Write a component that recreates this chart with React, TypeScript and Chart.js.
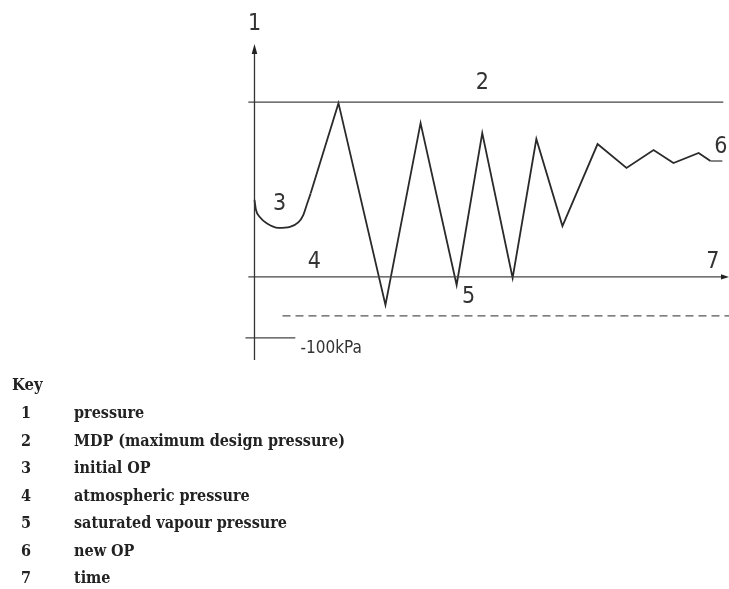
import React, { useEffect, useRef } from "react";
import { Chart, registerables } from "chart.js";

Chart.register(...registerables);

// time (x) and pressure (y) in diagram units: atmospheric = 0, MDP = 10
const arcTime = [0, 0.32, 1.16, 2.57, 5.02, 7.48, 9.23, 10.28, 11.0, 11.84];
const arcPressure = [4.4, 3.83, 3.41, 3.07, 2.81, 2.87, 3.12, 3.54, 4.11, 4.78];

const zigTime = [11.84, 17.7, 27.6, 35.0, 42.6, 48.0, 54.4, 59.4, 64.9, 72.3, 78.4, 84.1, 88.3, 93.6, 96.1];
const zigPressure = [4.78, 9.94, -1.6, 8.8, -0.46, 8.23, -0.06, 7.89, 2.91, 7.6, 6.23, 7.26, 6.51, 7.09, 6.63];

const mdpLevel = 10;
const atmLevel = 0;
const vapourLevel = -2.23;
const kpa100Level = -3.49;
const newOpLevel = 6.63;

const xMin = -2;
const xMax = 100;
const yMin = -4.75;
const yMax = 13.15;

const diagramLabels = ["1", "2", "3", "4", "5", "6", "7"];
const labelTime = [0, 48.0, 5.3, 12.6, 45.1, 98.3, 96.6];
const labelPressure = [14.45, 11.1, 4.17, 0.85, -1.15, 7.45, 0.85];
const kpaLabel = "-100kPa";

const keyTitle = "Key";
const keyNumbers = ["1", "2", "3", "4", "5", "6", "7"];
const keyTexts = [
  "pressure",
  "MDP (maximum design pressure)",
  "initial OP",
  "atmospheric pressure",
  "saturated vapour pressure",
  "new OP",
  "time",
];

const toPts = (xs: number[], ys: number[]) => xs.map((x, i) => ({ x, y: ys[i] }));

export default function App() {
  const ref = useRef<HTMLCanvasElement | null>(null);

  useEffect(() => {
    if (!ref.current) return;
    const lineBase = { pointRadius: 0, fill: false, clip: false as any, tension: 0 };
    const annotate = {
      id: "annotate",
      afterDatasetsDraw(chart: any) {
        const ctx = chart.ctx;
        const xs = chart.scales.x;
        const ys = chart.scales.y;
        ctx.save();
        const ax = xs.getPixelForValue(0);
        const ay = ys.getPixelForValue(yMax);
        ctx.fillStyle = "#222";
        ctx.beginPath();
        ctx.moveTo(ax, ay - 3);
        ctx.lineTo(ax - 2.8, ay + 7);
        ctx.lineTo(ax + 2.8, ay + 7);
        ctx.closePath();
        ctx.fill();
        const tx = xs.getPixelForValue(xMax);
        const ty = ys.getPixelForValue(atmLevel);
        ctx.beginPath();
        ctx.moveTo(tx, ty);
        ctx.lineTo(tx - 8, ty - 2.6);
        ctx.lineTo(tx - 8, ty + 2.6);
        ctx.closePath();
        ctx.fill();
        ctx.fillStyle = "#333";
        ctx.textAlign = "center";
        ctx.textBaseline = "middle";
        ctx.font = '23px "DejaVu Sans Condensed", "Liberation Sans Narrow", "DejaVu Sans", sans-serif';
        diagramLabels.forEach((t, i) => {
          ctx.fillText(t, xs.getPixelForValue(labelTime[i]), ys.getPixelForValue(labelPressure[i]));
        });
        ctx.textAlign = "left";
        ctx.font = '17px "DejaVu Sans Condensed", "Liberation Sans Narrow", "DejaVu Sans", sans-serif';
        ctx.fillText(kpaLabel, xs.getPixelForValue(9.7), ys.getPixelForValue(-4.12));
        ctx.restore();
      },
    };
    const chart = new Chart(ref.current, {
      type: "line",
      data: {
        datasets: [
          { ...lineBase, data: toPts([0, 0], [yMin, yMax - 0.3]), borderColor: "#333", borderWidth: 1.3 },
          { ...lineBase, data: toPts([-1.3, 98.8], [mdpLevel, mdpLevel]), borderColor: "#444", borderWidth: 1.3 },
          { ...lineBase, data: toPts([-1.3, 99], [atmLevel, atmLevel]), borderColor: "#444", borderWidth: 1.3 },
          { ...lineBase, data: toPts([5.9, 100], [vapourLevel, vapourLevel]), borderColor: "#555", borderWidth: 1.3, borderDash: [8, 5] },
          { ...lineBase, data: toPts([-1.9, 8.6], [kpa100Level, kpa100Level]), borderColor: "#444", borderWidth: 1.3 },
          { ...lineBase, data: toPts([96.1, 98.6], [newOpLevel, newOpLevel]), borderColor: "#444", borderWidth: 1.3 },
          { ...lineBase, data: toPts(arcTime, arcPressure), borderColor: "#2a2a2a", borderWidth: 1.8, tension: 0.4, cubicInterpolationMode: "monotone" as any },
          { ...lineBase, data: toPts(zigTime, zigPressure), borderColor: "#2a2a2a", borderWidth: 1.8 },
        ] as any,
      },
      options: {
        animation: false,
        responsive: false,
        events: [],
        layout: { padding: { left: 245, right: 0, top: 47, bottom: 10 } },
        plugins: { legend: { display: false }, tooltip: { enabled: false }, title: { display: false } },
        scales: {
          x: { type: "linear", min: xMin, max: xMax, display: false },
          y: { type: "linear", min: yMin, max: yMax, display: false },
        },
      },
      plugins: [annotate],
    });
    return () => chart.destroy();
  }, []);

  const rowStyle = (i: number): React.CSSProperties => ({
    position: "absolute",
    top: 413 + i * 27.5 - 14,
    left: 0,
    height: 28,
    lineHeight: "28px",
    width: 729,
  });

  return (
    <div style={{ position: "fixed", left: 0, top: 0, width: 729, height: 589, background: "#fff", overflow: "hidden" }}>
      <canvas ref={ref} width={729} height={370} style={{ position: "absolute", left: 0, top: 0, width: 729, height: 370 }} />
      <div style={{ position: "absolute", left: 0, top: 0, width: 729, height: 589, fontFamily: '"DejaVu Serif Condensed", "DejaVu Serif", serif', fontStretch: "condensed", fontWeight: "bold", fontSize: 16, color: "#222" }}>
        <div style={{ position: "absolute", left: 12, top: 385 - 14, height: 28, lineHeight: "28px", fontSize: 16.5 }}>{keyTitle}</div>
        {keyNumbers.map((n, i) => (
          <div key={n} style={rowStyle(i)}>
            <span style={{ position: "absolute", left: 21 }}>{n}</span>
            <span style={{ position: "absolute", left: 74, whiteSpace: "nowrap" }}>{keyTexts[i]}</span>
          </div>
        ))}
      </div>
    </div>
  );
}
